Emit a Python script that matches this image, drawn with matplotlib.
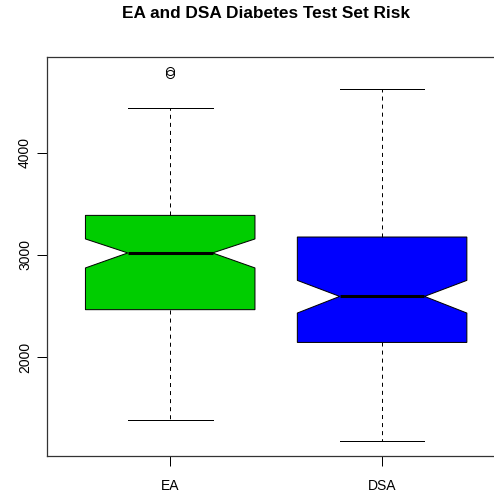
import matplotlib
matplotlib.use("Agg")
import matplotlib.pyplot as plt

# values
labels = ["EA", "DSA"]
medians = [3020, 2594]
q1 = [2464, 2143]
q3 = [3388, 3176]
notch_lo = [2873, 2431]
notch_hi = [3157, 2751]
whis_lo = [1382, 1176]
whis_hi = [4437, 4627]
fliers = [[4775, 4805], []]
colors = ["#00CD00", "#0000FF"]
yticks = [2000, 3000, 4000]

plt.rcParams["font.family"] = ["Liberation Sans", "DejaVu Sans"]
plt.rcParams["lines.scale_dashes"] = False

fig = plt.figure(figsize=(4.94, 4.96), dpi=100)
ax = fig.add_axes([47.3 / 494, 40.3 / 496, 457.7 / 494, 399 / 496])

stats = []
for i in range(len(labels)):
    stats.append(dict(label=labels[i], med=medians[i], q1=q1[i], q3=q3[i],
                      cilo=notch_lo[i], cihi=notch_hi[i],
                      whislo=whis_lo[i], whishi=whis_hi[i], fliers=fliers[i]))

bp = ax.bxp(stats, positions=[1, 2], widths=0.8, shownotches=True,
            patch_artist=True,
            boxprops=dict(edgecolor="black", linewidth=0.72),
            medianprops=dict(color="black", linewidth=2.2, solid_capstyle="butt"),
            whiskerprops=dict(color="black", linewidth=0.72, linestyle=(0, (2.9, 2.9))),
            capprops=dict(color="black", linewidth=0.72),
            flierprops=dict(marker="o", markersize=5.8, markerfacecolor="none",
                            markeredgecolor="black", markeredgewidth=0.72))
for patch, c in zip(bp["boxes"], colors):
    patch.set_facecolor(c)

ax.set_xlim(0.42, 2.58)
ax.set_ylim(1033, 4943)
ax.set_yticks(yticks)
ax.set_yticklabels([str(t) for t in yticks], rotation=90, va="center")
ax.set_xticks([1, 2])
ax.set_xticklabels(labels)
ax.tick_params(axis="both", length=7, width=0.72, labelsize=10, color="black")
ax.tick_params(axis="y", pad=4)
ax.tick_params(axis="x", pad=9.5)
for s in ax.spines.values():
    s.set_linewidth(0.9)
    s.set_color("#333333")

fig.text(266 / 494, 1 - 14 / 496, "EA and DSA Diabetes Test Set Risk",
         ha="center", va="center", fontsize=12.4, fontweight="bold")

fig.savefig("out.png", dpi=100)
